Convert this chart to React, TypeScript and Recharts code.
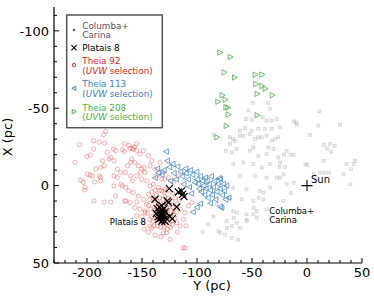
import React from 'react';
import { ScatterChart, Scatter, XAxis, YAxis, ReferenceDot } from 'recharts';

const FONT = '"DejaVu Sans", sans-serif';

// tick values (galactic Y along the bottom, X up the side, inverted)
const yTicks = [-230, -220, -210, -200, -190, -180, -170, -160, -150, -140, -130, -120, -110, -100, -90, -80, -70, -60, -50, -40, -30, -20, -10, 0, 10, 20, 30, 40, 50];
const xTicks = [-110, -100, -90, -80, -70, -60, -50, -40, -30, -20, -10, 0, 10, 20, 30, 40, 50];

// [Y, X] in pc
const columbaCarina: [number, number][] = [
  [-70, -31.2], [-65.5, -29], [-61, -32.3], [-51.8, -33.3], [-44.3, -31.2], [-36.7, -32.3], [-32.2, -29], [-26.1, -31.2],
  [-73.7, -22.5], [-68.5, -21.4], [-64, -23.6], [-51.8, -22.5], [-44.3, -19.3], [-36.7, -20.3], [-30.6, -23.6], [-26.1, -18.2],
  [-67, -13.9], [-57.9, -14.9], [-48.8, -13.9], [-41.2, -11.7], [-33.7, -13.9], [-24.6, -14.9], [-61, -6.3], [-47.3, -6.3],
  [-36.7, -5.2], [-24.6, -5.2], [-67, 1.3], [-54.9, 2.4], [-42.8, 3.5], [-18.5, -0.9], [-70, 7.8], [-59.4, 8.9], [-48.8, 10],
  [-39.7, 8.9], [-67, 16.4], [-54.9, 18.6], [-48.8, 18.6], [-45.8, 16.4], [-36.7, 15.4], [-73.1, 22.9], [-64, 24], [-54.9, 21.9],
  [-61, 27.3], [-68.5, 26.2], [-80.6, 29.4], [-74.6, 31.6], [-68.5, 33.8],
  [-49.4, -53.5], [-35.2, -53.3], [-53.4, -48.5], [-33.7, -49.6], [-55.5, -42.9], [-50.3, -42.5], [-40.3, -44.2], [-36.7, -42],
  [-32.2, -42], [-27.6, -43.1], [-24.6, -37.7], [-56.4, -37.3], [-61, -35.6], [-50.3, -35.6], [-44.3, -36.6], [-38.2, -36.6],
  [-32.2, -36.6], [-67, -30.1], [-57.9, -32.3], [-47.3, -30.1], [-41.2, -31.2], [-29.1, -30.1], [-70, -26.9], [-48.8, -24.7], [-35.2, -24.7],
  [11.2, -48], [-10, -40.7], [-12, -41.6], [10.3, -38.8], [30, -39.4], [2.7, -32.7], [21, -27], [18, -24], [22, -22],
  [-18.5, -22.5], [-21, -20], [-15, -20], [-12, -20], [-25, -12], [-20, -12], [0.3, -13.4], [36, -13.9], [40, -10.6],
  [43.6, -16], [12, -8.4], [16, -8.4], [20, -8.4], [-14.5, 4.7], [-21.5, 9.9], [15.2, -26.4], [25.2, -25.7], [-84.8, -32.9], [-9, -39.4],
  [-78.8, 30.5], [-72.7, 27.3], [-62.7, 34.9], [-54.6, 23], [-45.5, 20.8], [-66.7, 20.8], [-63.7, 17.5], [-48.5, 14.3],
  [-44, 7.8], [-39.4, 4.6], [-33.3, 1.3], [-27.3, -5.2], [-21.2, -7.3], [-12.1, -1.9], [-1.5, -13.8], [6.1, -7.3],
  [15.1, -16], [42.4, -13.8], [33.3, -7.3], [39.4, -0.9], [-85, 20], [-90, 25], [-95, 30], [-82, 12],
];

const theia92: [number, number][] = [
  [-183, -35], [-185, -33], [-194, -29], [-189, -28], [-184, -27.5], [-207, -26.5], [-194, -23.6], [-176, -23.6], [-174, -22.6],
  [-168, -23.2], [-166, -22], [-161, -24], [-159, -24], [-200, -18.7], [-197, -19.8], [-211, -15], [-186, -16], [-180, -17.2],
  [-178.5, -18.2], [-175.5, -16], [-181.5, -21.5], [-172.4, -10.7], [-169.4, -8.5], [-164.8, -8.5], [-163.3, -12.8], [-160.3, -15],
  [-192, -10.7], [-187.6, -11.7], [-184.5, -12.8], [-199.7, -7.4], [-197.3, -6.8], [-195.2, -6.3], [-189, -6.3], [-187.6, -5.2],
  [-205.8, -3.5], [-203.3, -2], [-201.8, 1.2], [-202, 2.8], [-193, -2.4], [-187.6, -3.1], [-175.5, -6.3], [-172.4, -5.2],
  [-169.4, -0.9], [-168, 0.2], [-175.5, 0.2], [-164.8, 1.2], [-174, 6.7], [-193.6, 9.9], [-184.5, 10.6], [-178.5, 10.6],
  [-164.8, 9.9], [-160.3, -6.3], [-158.8, -3.1], [-161.8, 3.4], [-165.5, 10], [-154.8, 10.4], [-147.3, 16.4], [-141.2, 27.3],
  [-127.6, 30.5], [-111, 40.3], [-166, -27], [-162, -26], [-157, -25], [-155, -27], [-148.2, -11.7], [-151.2, -8.4],
  [-157.9, -23.6], [-154.8, -22.6], [-151.8, -20.4], [-148.8, -22.6], [-144.2, -19.3], [-141.2, -16.1], [-159.4, -17.2],
  [-156.4, -15], [-153.3, -12.8], [-150.3, -10.7], [-147.3, -8.5], [-154.8, -6.3], [-150.3, -4.2], [-145.7, -3.1], [-142.7, -12.8],
  [-138.2, -10.7], [-136.7, -6.3], [-132.1, -4.2], [-129.1, -4.2], [-133.6, -15], [-130.6, -8.5], [-126, -5.2], [-157.9, 4.5],
  [-153.3, 6.7], [-148.8, 8.8], [-144.2, 5.6], [-160.9, 11], [-156.4, 14.2], [-151.8, 15.3], [-147.3, 17.5], [-142.7, 0.2],
  [-139.7, -0.9], [-135.1, 1.2], [-132.1, 3.4], [-129.1, 2.3], [-118.5, 24], [-115.4, 26.1], [-112.4, 21.8], [-130.6, 30.5],
  [-142.7, 26.1], [-148.8, 24], [-154.8, 19.6], [-112.4, 40.2], [-124.5, 34.8], [-115.4, 15.3], [-110.9, 17.5],
  [-107.9, 13.1], [-104.8, 11], [-121.5, -2], [-117, -6.3],
  [-140, 8], [-138, 12], [-137, 6], [-136, 10], [-135, 14], [-134, 8], [-133, 12], [-132, 16], [-131, 9], [-130, 13],
  [-129, 7], [-128, 11], [-127, 15], [-126, 8], [-125, 12], [-124, 16], [-123, 10], [-122, 14], [-121, 18], [-139, 16],
  [-138, 19], [-137, 22], [-136, 17], [-135, 20], [-134, 23], [-133, 18], [-132, 21], [-131, 24], [-130, 19], [-129, 22],
  [-128, 25], [-127, 18], [-126, 21], [-125, 24], [-124, 20], [-123, 23], [-141, 20], [-140, 23], [-139, 26], [-136, 26],
  [-133, 27], [-130, 27], [-127, 28], [-124, 27], [-122, 25], [-120, 21], [-119, 17], [-118, 12], [-120, 8], [-122, 5],
  [-126, 3], [-130, 4], [-134, 3], [-138, 3], [-141, 4], [-143, 9], [-144, 13], [-145, 18], [-143, 22], [-142, 15],
  [-137, 14], [-135, 17], [-133, 15], [-131, 17], [-129, 16], [-128, 19], [-134, 19], [-136, 21], [-132, 19], [-130, 22],
  [-146, 12], [-150, 20], [-148, 28], [-144, 30], [-138, 32], [-133, 33], [-118, 30], [-116, 9], [-113, 6], [-110, 26],
];

const theia113: [number, number][] = [
  [-128, -22], [-135, -8.4], [-132, -7], [-130, -10], [-127, -16], [-125, -12], [-122, -14], [-117.6, -12.3], [-115, -9],
  [-113, -6], [-110.3, -11], [-110, -8], [-108, -4], [-106, -10], [-104, -7], [-102, -2], [-100.3, -8.9], [-100, -4],
  [-99, -1], [-98, 2], [-97, -6], [-96, 4], [-95, -3], [-94, 0], [-93, 6], [-92.5, -5.2], [-92, 2], [-91, -3], [-90, 8],
  [-89, -1], [-88, 3], [-87.9, 11.4], [-87, -6], [-86, 6], [-85, 1], [-84, -3], [-83, 9], [-82, 4], [-81, -1], [-80, -4.8],
  [-79, 2], [-78.8, -4.2], [-78.8, 13.6], [-77.6, 14.3], [-77, 6], [-76, -1], [-75, 3.4], [-74, 9], [-73, 0], [-71.2, 7.8],
  [-97, 11.7], [-103.6, 17.1], [-100, 14], [-105, 5], [-107, 1], [-112, -1], [-119, -4], [-121, -8], [-124, -3], [-138, -5], [-136, -11],
];

const theia208: [number, number][] = [
  [-79.1, -86], [-69.7, -83.1], [-75.2, -73.2], [-65.7, -69.9], [-47, -71.7], [-40.9, -71.7], [-46.4, -65.6], [-40.9, -64.3],
  [-37.9, -62.6], [-31.5, -58.4], [-45.2, -59.3], [-77, -58.4], [-74.3, -55.5], [-80.9, -54.2], [-73.6, -50.6], [-71.8, -50.4],
  [-71.5, -45.9], [-45.2, -45.5], [-73.3, -38.6], [-81.8, -31.2],
];

const platais8: [number, number][] = [
  [-125.2, 1.9], [-117, 4.1], [-114, 3.4], [-111.8, 7.1], [-113, 5.5], [-138.2, 8.8], [-127, 9.9], [-126, 11], [-118.5, 13.8],
  [-124.5, 19.7], [-122.5, 21.5], [-136, 15], [-134, 17], [-133, 19], [-132, 16], [-131, 18], [-130, 20], [-129, 17],
  [-135, 20], [-133, 21], [-131, 22], [-128, 21], [-134, 14], [-130, 15], [-132, 13], [-137, 18], [-129, 23], [-135, 22], [-132, 23],
];

const toPoints = (arr: [number, number][]) => arr.map(([gy, gx]) => ({ gy, gx }));

const GrayMark = ({ cx, cy }: any) => (
  <rect x={cx - 1.5} y={cy - 1.5} width={3} height={3} fill="#a89cb2" fillOpacity={0.22} stroke="#a89cb2" strokeOpacity={0.4} strokeWidth={0.7} />
);
const RedMark = ({ cx, cy }: any) => (
  <circle cx={cx} cy={cy} r={2.1} fill="none" stroke="#e8302b" strokeOpacity={0.42} strokeWidth={0.9} />
);
const BlueMark = ({ cx, cy }: any) => (
  <polygon points={`${cx - 2.8},${cy} ${cx + 2.2},${cy - 2.7} ${cx + 2.2},${cy + 2.7}`} fill="none" stroke="#3a7fc1" strokeOpacity={0.72} strokeWidth={1} />
);
const GreenMark = ({ cx, cy }: any) => (
  <polygon points={`${cx + 2.8},${cy} ${cx - 2.2},${cy - 2.7} ${cx - 2.2},${cy + 2.7}`} fill="none" stroke="#4aae4a" strokeOpacity={0.8} strokeWidth={1} />
);
const BlackMark = ({ cx, cy }: any) => (
  <path d={`M${cx - 3.5},${cy - 3.5}L${cx + 3.5},${cy + 3.5}M${cx - 3.5},${cy + 3.5}L${cx + 3.5},${cy - 3.5}`} stroke="#000" strokeWidth={1.2} />
);

const isMajor = (v: number) => v % 50 === 0;

const BottomTick = ({ x, y, payload }: any) => (
  <g>
    <line x1={x} y1={y} x2={x} y2={y - (isMajor(payload.value) ? 5 : 3)} stroke="#000" strokeWidth={1} />
    {isMajor(payload.value) && (
      <text x={x} y={y + 13.5} textAnchor="middle" fontSize={13} fontFamily={FONT} fill="#000">{payload.value}</text>
    )}
  </g>
);
const TopTick = ({ x, y, payload }: any) => (
  <line x1={x} y1={y} x2={x} y2={y + (isMajor(payload.value) ? 5 : 3)} stroke="#000" strokeWidth={1} />
);
const LeftTick = ({ x, y, payload }: any) => (
  <g>
    <line x1={x} y1={y} x2={x + (isMajor(payload.value) ? 5 : 3)} y2={y} stroke="#000" strokeWidth={1} />
    {isMajor(payload.value) && (
      <text x={x - 5} y={y} dy="0.36em" textAnchor="end" fontSize={13} fontFamily={FONT} fill="#000">{payload.value}</text>
    )}
  </g>
);
const RightTick = ({ x, y, payload }: any) => (
  <line x1={x} y1={y} x2={x - (isMajor(payload.value) ? 5 : 3)} y2={y} stroke="#000" strokeWidth={1} />
);

const legendRows = [
  { lines: ['Columba+', 'Carina'], color: '#5e4b6e', marker: 'square', y: 26 },
  { lines: ['Platais 8'], color: '#000', marker: 'x', y: 47.7 },
  { lines: ['Theia 92', 'UVW'], color: '#e41a1c', marker: 'circle', y: 61 },
  { lines: ['Theia 113', 'UVW'], color: '#3d80c2', marker: 'left', y: 84.3 },
  { lines: ['Theia 208', 'UVW'], color: '#4daf4a', marker: 'right', y: 107.7 },
];

const LegendMarker = ({ kind, y }: { kind: string; y: number }) => {
  const cx = 74;
  if (kind === 'square') return <rect x={cx - 1.2} y={y - 1.2} width={2.4} height={2.4} fill="#6e5e7e" />;
  if (kind === 'x') return <path d={`M${cx - 2.6},${y - 2.6}L${cx + 2.6},${y + 2.6}M${cx - 2.6},${y + 2.6}L${cx + 2.6},${y - 2.6}`} stroke="#000" strokeWidth={1.1} />;
  if (kind === 'circle') return <circle cx={cx} cy={y} r={1.7} fill="none" stroke="#e8302b" strokeWidth={1} />;
  if (kind === 'left') return <polygon points={`${cx - 2.2},${y} ${cx + 1.8},${y - 2.2} ${cx + 1.8},${y + 2.2}`} fill="none" stroke="#3a7fc1" strokeWidth={1} />;
  return <polygon points={`${cx + 2.2},${y} ${cx - 1.8},${y - 2.2} ${cx - 1.8},${y + 2.2}`} fill="none" stroke="#4aae4a" strokeWidth={1} />;
};

const Overlay = () => (
  <svg width={374} height={299} style={{ position: 'absolute', left: 0, top: 0, pointerEvents: 'none' }}>
    <rect x={66.7} y={15} width={95.6} height={112.7} fill="#fff" stroke="#555" strokeWidth={1.5} />
    {legendRows.map((r) => {
      const markerY = r.lines.length > 1 ? r.y + 4 : r.y;
      return (
        <g key={r.lines[0]}>
          <LegendMarker kind={r.marker} y={markerY} />
          <text x={82.3} y={r.y} dy="0.35em" fontSize={8.8} fontFamily={FONT} fill={r.color}>{r.lines[0]}</text>
          {r.lines[1] === 'UVW' ? (
            <text x={82.3} y={r.y + 9.7} dy="0.35em" fontSize={8.8} fontFamily={FONT} fill={r.color}>
              (<tspan fontStyle="italic">UVW</tspan> selection)
            </text>
          ) : r.lines[1] ? (
            <text x={82.3} y={r.y + 9.2} dy="0.35em" fontSize={8.8} fontFamily={FONT} fill={r.color}>{r.lines[1]}</text>
          ) : null}
        </g>
      );
    })}
    <text x={212} y={289.5} textAnchor="middle" fontSize={13} fontFamily={FONT} fill="#000">Y (pc)</text>
    <text transform="translate(7,137) rotate(-90)" textAnchor="middle" dy="0.35em" fontSize={13} fontFamily={FONT} fill="#000">X (pc)</text>
  </svg>
);

const SunMark = ({ cx, cy }: any) => (
  <g>
    <path d={`M${cx - 5.5},${cy}L${cx + 5.5},${cy}M${cx},${cy - 5.5}L${cx},${cy + 5.5}`} stroke="#000" strokeWidth={1.1} />
    <text x={cx + 4} y={cy - 6} dy="0.35em" fontSize={10} fontFamily={FONT} fill="#000">Sun</text>
  </g>
);

const TextMark = (lines: string[], anchor: 'start' | 'end') => ({ cx, cy }: any) => (
  <text x={cx} y={cy} dy="0.35em" textAnchor={anchor} fontSize={8.5} fontFamily={FONT} fill="#000">
    {lines.map((l, i) => (
      <tspan key={l} x={cx} dy={i === 0 ? '0.35em' : '1.05em'}>{l}</tspan>
    ))}
  </text>
);

export default function App() {
  return (
    <div style={{ position: 'absolute', left: 0, top: 0, width: 374, height: 299, background: '#fff' }}>
      <ScatterChart width={374} height={299} margin={{ top: 7, right: 12, bottom: 0, left: 0 }}>
        <XAxis
          type="number" dataKey="gy" domain={[-230, 50]} allowDataOverflow ticks={yTicks} interval={0}
          height={36} tickSize={0} tickMargin={0} tickLine={false} axisLine={{ stroke: '#000', strokeWidth: 1.2 }}
          tick={(p: any) => <BottomTick {...p} />}
        />
        <XAxis
          xAxisId="top" orientation="top" type="number" dataKey="gy" domain={[-230, 50]} allowDataOverflow ticks={yTicks}
          interval={0} height={0} tickSize={0} tickMargin={0} tickLine={false} axisLine={{ stroke: '#000', strokeWidth: 1.2 }}
          tick={(p: any) => <TopTick {...p} />}
        />
        <YAxis
          type="number" dataKey="gx" domain={[-115.4, 50]} reversed allowDataOverflow ticks={xTicks} interval={0}
          width={54} tickSize={0} tickMargin={0} tickLine={false} axisLine={{ stroke: '#000', strokeWidth: 1.2 }}
          tick={(p: any) => <LeftTick {...p} />}
        />
        <YAxis
          yAxisId="right" orientation="right" type="number" dataKey="gx" domain={[-115.4, 50]} reversed allowDataOverflow
          ticks={xTicks} interval={0} width={0} tickSize={0} tickMargin={0} tickLine={false}
          axisLine={{ stroke: '#000', strokeWidth: 1.2 }} tick={(p: any) => <RightTick {...p} />}
        />
        <Scatter name="Columba+Carina" data={toPoints(columbaCarina)} shape={GrayMark} isAnimationActive={false} />
        <Scatter name="Theia 92" data={toPoints(theia92)} shape={RedMark} isAnimationActive={false} />
        <Scatter name="Theia 113" data={toPoints(theia113)} shape={BlueMark} isAnimationActive={false} />
        <Scatter name="Theia 208" data={toPoints(theia208)} shape={GreenMark} isAnimationActive={false} />
        <Scatter name="Platais 8" data={toPoints(platais8)} shape={BlackMark} isAnimationActive={false} />
        <ReferenceDot x={0} y={0} shape={SunMark} />
        <ReferenceDot x={-146.4} y={23.6} shape={TextMark(['Platais 8'], 'end')} />
        <ReferenceDot x={-34.3} y={16.4} shape={TextMark(['Columba+', 'Carina'], 'start')} />
      </ScatterChart>
      <Overlay />
    </div>
  );
}
